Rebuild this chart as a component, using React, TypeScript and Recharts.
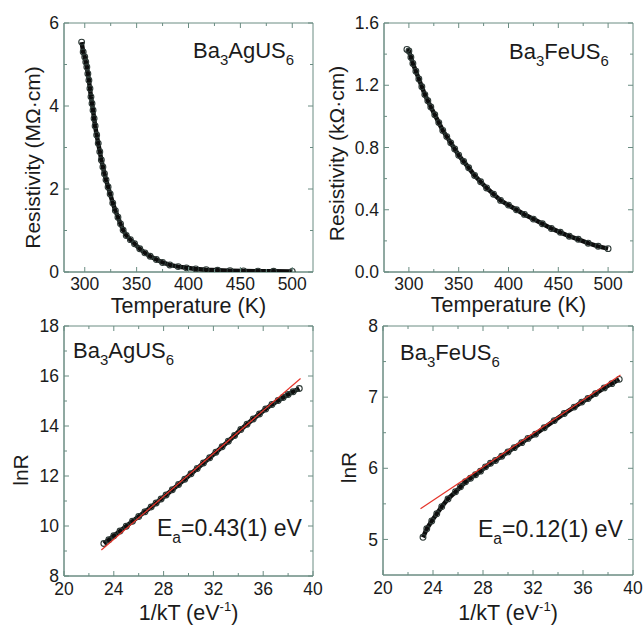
import { ScatterChart, Scatter, XAxis, YAxis, ReferenceArea } from 'recharts';

const AXIS = '#6a8c82';
const INK = '#1b1b1b';
const FIT = '#e5342a';
const FONT = '"Liberation Sans", Arial, Helvetica, sans-serif';

// Ba3AgUS6 : resistivity (MOhm.cm) vs temperature (K)
const agTemp = [
  297, 298.5, 300, 301, 302, 303, 304, 305, 306, 307, 308, 309, 310, 311.5, 313,
  314.5, 316, 317.5, 319, 320.5, 322.5, 324.5, 327, 329.5, 332, 334.5, 337, 340,
  344, 348, 353, 358, 363, 369, 375, 382, 390, 398, 407, 417, 428, 440, 453, 467,
  482, 500,
];
const agRho = [
  5.54, 5.3, 5.18, 5.06, 4.94, 4.78, 4.62, 4.42, 4.22, 4.06, 3.9, 3.7, 3.52, 3.3,
  3.1, 2.9, 2.7, 2.53, 2.37, 2.22, 2.05, 1.88, 1.66, 1.48, 1.32, 1.16, 1.01, 0.88,
  0.78, 0.68, 0.56, 0.46, 0.38, 0.3, 0.23, 0.17, 0.13, 0.1, 0.075, 0.055, 0.042,
  0.032, 0.025, 0.02, 0.017, 0.015,
];

// Ba3FeUS6 : resistivity (kOhm.cm) vs temperature (K)
const feTemp = [
  298, 300, 302, 304, 307, 310, 313, 316, 319, 322, 326, 330, 334, 338, 342, 346,
  350, 355, 360, 366, 372, 378, 385, 392, 400, 408, 416, 425, 434, 443, 452, 461,
  470, 480, 490, 500,
];
const feRho = [
  1.43, 1.42, 1.38, 1.34, 1.29, 1.24, 1.19, 1.14, 1.1, 1.06, 1.01, 0.96, 0.91,
  0.87, 0.83, 0.79, 0.75, 0.71, 0.67, 0.62, 0.58, 0.54, 0.5, 0.46, 0.43, 0.4,
  0.37, 0.34, 0.31, 0.28, 0.255, 0.23, 0.21, 0.185, 0.165, 0.15,
];

// Arrhenius plots : lnR vs 1/kT (eV^-1)
const agInvKT = [
  23.2, 23.6, 24.0, 24.5, 25.0, 25.5, 26.0, 26.5, 27.0, 27.4, 27.8, 28.2, 28.7,
  29.2, 29.7, 30.2, 30.7, 31.2, 31.7, 32.2, 32.7, 33.2, 33.7, 34.2, 34.7, 35.2,
  35.7, 36.2, 36.7, 37.2, 37.6, 38.0, 38.4, 38.9,
];
const agLnR = [
  9.3, 9.45, 9.61, 9.8, 9.99, 10.19, 10.38, 10.57, 10.76, 10.92, 11.08, 11.24,
  11.45, 11.66, 11.87, 12.09, 12.3, 12.52, 12.73, 12.95, 13.17, 13.39, 13.62,
  13.86, 14.07, 14.28, 14.48, 14.68, 14.86, 15.02, 15.14, 15.26, 15.37, 15.5,
];
const agFitX = [23, 39];
const agFitY = [9.04, 15.9];

const feInvKT = [
  23.2, 23.5, 23.9, 24.3, 24.7, 25.2, 25.8, 26.2, 26.6, 27.0, 27.4, 27.8, 28.2,
  28.6, 29.0, 29.5, 30.0, 30.5, 31.1, 31.6, 32.2, 32.9, 33.7, 34.5, 35.3, 35.9,
  36.4, 37.0, 37.7, 38.3, 38.9,
];
const feLnR = [
  5.03, 5.15, 5.26, 5.36, 5.46, 5.57, 5.67, 5.74, 5.81, 5.86, 5.91, 5.96, 6.02,
  6.07, 6.11, 6.17, 6.23, 6.29, 6.36, 6.42, 6.48, 6.57, 6.67, 6.77, 6.86, 6.93,
  6.98, 7.05, 7.13, 7.19, 7.25,
];
const feFitX = [23, 39];
const feFitY = [5.43, 7.31];

// ticks (all = minor + major, major = labelled)
const tempTicks = [300, 325, 350, 375, 400, 425, 450, 475, 500];
const tempMajor = [300, 350, 400, 450, 500];
const agRhoTicks = [0, 1, 2, 3, 4, 5, 6];
const agRhoMajor = [0, 2, 4, 6];
const feRhoTicks = [0, 0.2, 0.4, 0.6, 0.8, 1.0, 1.2, 1.4, 1.6];
const feRhoMajor = [0, 0.4, 0.8, 1.2, 1.6];
const invTicks = [20, 22, 24, 26, 28, 30, 32, 34, 36, 38, 40];
const invMajor = [20, 24, 28, 32, 36, 40];
const agLnTicks = [8, 9, 10, 11, 12, 13, 14, 15, 16, 17, 18];
const agLnMajor = [8, 10, 12, 14, 16, 18];
const feLnTicks = [5, 5.5, 6, 6.5, 7, 7.5, 8];
const feLnMajor = [5, 6, 7, 8];

const zip = (xs: number[], ys: number[]) => xs.map((x, i) => ({ x, y: ys[i] }));

const MT = 10;
const MR = 14;

const Ring = (p: any) => (
  <circle cx={p.cx} cy={p.cy} r={2.9} fill="none" stroke="#2e3a37" strokeWidth={1.1} />
);
const NoDot = () => <g />;

interface PanelProps {
  l: number;
  t: number;
  w: number;
  h: number;
  yAxisW: number;
  xAxisH: number;
  xTickMargin: number;
  yTitleDown: number; // label sits a bit below the plot centre in the original
  xDomain: [number, number];
  yDomain: [number, number];
  xTicks: number[];
  xMajor: number[];
  yTicks: number[];
  yMajor: number[];
  yFmt: (v: number) => string;
  xTitle: string;
  xSup?: string;
  yTitle: string;
  data: { x: number; y: number }[];
  fit?: { x: number; y: number }[];
}

const Panel = (p: PanelProps) => {
  const width = p.yAxisW + p.w + MR;
  const height = MT + p.h + p.xAxisH;
  const plotRight = p.yAxisW + p.w;

  const xTick = (props: any) => {
    const { x, y, payload } = props;
    const axisY = y - p.xTickMargin;
    const major = p.xMajor.includes(payload.value);
    const len = major ? 5 : 3;
    return (
      <g>
        <line x1={x} x2={x} y1={axisY} y2={axisY - len} stroke={AXIS} />
        <line x1={x} x2={x} y1={MT} y2={MT + len} stroke={AXIS} />
        {major && (
          <text x={x} y={y} dy="0.71em" textAnchor="middle" fontSize={17.5} fontFamily={FONT} fill={INK}>
            {payload.value}
          </text>
        )}
      </g>
    );
  };

  const yTick = (props: any) => {
    const { x, y, payload } = props;
    const axisX = x + 5;
    const major = p.yMajor.includes(payload.value);
    const len = major ? 5 : 3;
    return (
      <g>
        <line x1={axisX} x2={axisX + len} y1={y} y2={y} stroke={AXIS} />
        <line x1={plotRight} x2={plotRight - len} y1={y} y2={y} stroke={AXIS} />
        {major && (
          <text x={x} y={y} dy="0.355em" textAnchor="end" fontSize={17.5} fontFamily={FONT} fill={INK}>
            {p.yFmt(payload.value)}
          </text>
        )}
      </g>
    );
  };

  const xTitle = (props: any) => {
    const vb = props.viewBox;
    return (
      <text
        x={vb.x + vb.width / 2}
        y={vb.y + vb.height / 2 + 2}
        dy="0.36em"
        textAnchor="middle"
        fontSize={21.5}
        fontFamily={FONT}
        fill={INK}
      >
        {p.xTitle}
        {p.xSup && (
          <>
            <tspan dy={-9} fontSize={13}>
              {p.xSup}
            </tspan>
            <tspan dy={9}>)</tspan>
          </>
        )}
      </text>
    );
  };

  const yTitle = (props: any) => {
    const vb = props.viewBox;
    const cx = vb.x + vb.width / 2;
    const cy = vb.y + vb.height / 2 + p.yTitleDown;
    return (
      <text
        transform={`translate(${cx},${cy}) rotate(-90)`}
        dy="0.36em"
        textAnchor="middle"
        fontSize={21}
        fontFamily={FONT}
        fill={INK}
      >
        {p.yTitle}
      </text>
    );
  };

  return (
    <div style={{ position: 'absolute', left: p.l - p.yAxisW, top: p.t - MT }}>
      <ScatterChart width={width} height={height} margin={{ top: MT, right: MR, bottom: 0, left: 0 }}>
        <XAxis
          type="number"
          dataKey="x"
          domain={p.xDomain}
          ticks={p.xTicks}
          interval={0}
          height={p.xAxisH}
          tickSize={0}
          tickMargin={p.xTickMargin}
          tick={xTick}
          axisLine={{ stroke: AXIS }}
          allowDataOverflow
          label={{ content: xTitle }}
        />
        <YAxis
          type="number"
          dataKey="y"
          domain={p.yDomain}
          ticks={p.yTicks}
          interval={0}
          width={p.yAxisW}
          tickSize={0}
          tickMargin={5}
          tick={yTick}
          axisLine={{ stroke: AXIS }}
          allowDataOverflow
          label={{ content: yTitle }}
        />
        <ReferenceArea
          x1={p.xDomain[0]}
          x2={p.xDomain[1]}
          y1={p.yDomain[0]}
          y2={p.yDomain[1]}
          fill="none"
          stroke={AXIS}
          ifOverflow="visible"
        />
        <Scatter
          data={p.data}
          line={{ stroke: '#0d0d0d', strokeWidth: 4.5 }}
          shape={Ring}
          isAnimationActive={false}
        />
        {p.fit && (
          <Scatter
            data={p.fit}
            line={{ stroke: FIT, strokeWidth: 1.2 }}
            shape={NoDot}
            isAnimationActive={false}
          />
        )}
      </ScatterChart>
    </div>
  );
};

const Formula = ({ x, y, parts, size }: { x: number; y: number; parts: [string, boolean][]; size: number }) => {
  let down = false;
  return (
    <text x={x} y={y} fontSize={size} fontFamily={FONT} fill={INK}>
      {parts.map(([s, sub], i) => {
        let dy = 0;
        if (sub && !down) dy = 7;
        if (!sub && down) dy = -7;
        down = sub;
        return (
          <tspan key={i} dy={dy} fontSize={sub ? size * 0.68 : size}>
            {s}
          </tspan>
        );
      })}
    </text>
  );
};

const int = (v: number) => String(v);
const one = (v: number) => v.toFixed(1);

export default function App() {
  return (
    <div style={{ position: 'absolute', left: 0, top: 0, width: 644, height: 626, background: '#fff', overflow: 'hidden' }}>
      <Panel
        l={64} t={23} w={249} h={249} yAxisW={64} xAxisH={62} xTickMargin={6} yTitleDown={10}
        xDomain={[280, 520]} yDomain={[0, 6]}
        xTicks={tempTicks} xMajor={tempMajor} yTicks={agRhoTicks} yMajor={agRhoMajor} yFmt={int}
        xTitle="Temperature (K)" yTitle="Resistivity (MΩ·cm)"
        data={zip(agTemp, agRho)}
      />
      <Panel
        l={384} t={23} w={249} h={249} yAxisW={96} xAxisH={60} xTickMargin={6} yTitleDown={6}
        xDomain={[275, 525]} yDomain={[0, 1.6]}
        xTicks={tempTicks} xMajor={tempMajor} yTicks={feRhoTicks} yMajor={feRhoMajor} yFmt={one}
        xTitle="Temperature (K)" yTitle="Resistivity (kΩ·cm)"
        data={zip(feTemp, feRho)}
      />
      <Panel
        l={64} t={326} w={249} h={250} yAxisW={88} xAxisH={68} xTickMargin={7} yTitleDown={19}
        xDomain={[20, 40]} yDomain={[8, 18]}
        xTicks={invTicks} xMajor={invMajor} yTicks={agLnTicks} yMajor={agLnMajor} yFmt={int}
        xTitle="1/kT (eV" xSup="-1" yTitle="lnR"
        data={zip(agInvKT, agLnR)} fit={zip(agFitX, agFitY)}
      />
      <Panel
        l={383} t={326} w={250} h={249} yAxisW={70} xAxisH={70} xTickMargin={7} yTitleDown={17}
        xDomain={[20, 40]} yDomain={[4.5, 8]}
        xTicks={invTicks} xMajor={invMajor} yTicks={feLnTicks} yMajor={feLnMajor} yFmt={int}
        xTitle="1/kT (eV" xSup="-1" yTitle="lnR"
        data={zip(feInvKT, feLnR)} fit={zip(feFitX, feFitY)}
      />
      <svg width={644} height={626} style={{ position: 'absolute', left: 0, top: 0, pointerEvents: 'none' }}>
        <Formula x={193} y={58} size={22} parts={[['Ba', false], ['3', true], ['AgUS', false], ['6', true]]} />
        <Formula x={509} y={59} size={22} parts={[['Ba', false], ['3', true], ['FeUS', false], ['6', true]]} />
        <Formula x={73} y={358} size={22} parts={[['Ba', false], ['3', true], ['AgUS', false], ['6', true]]} />
        <Formula x={400} y={360} size={22} parts={[['Ba', false], ['3', true], ['FeUS', false], ['6', true]]} />
        <Formula x={157} y={536} size={23} parts={[['E', false], ['a', true], ['=0.43(1) eV', false]]} />
        <Formula x={478} y={537} size={23} parts={[['E', false], ['a', true], ['=0.12(1) eV', false]]} />
      </svg>
    </div>
  );
}
